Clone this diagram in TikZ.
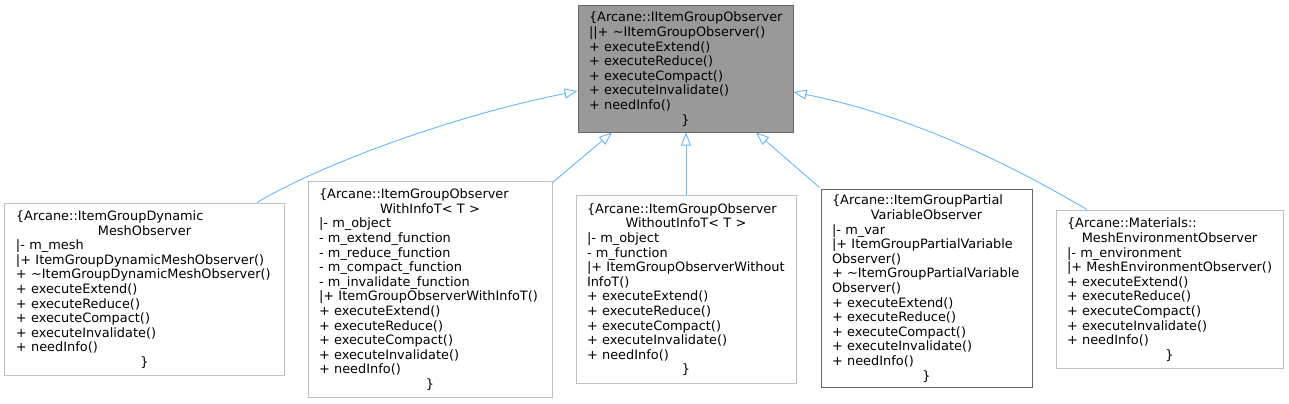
\documentclass[tikz,border=0pt]{standalone}
\usepackage{fontspec}
\setmainfont{DejaVu Sans}
\usetikzlibrary{arrows.meta,calc}
\definecolor{edgeblue}{HTML}{63B8FF}
\definecolor{boxgray}{HTML}{BFBFBF}
\definecolor{bdark}{HTML}{666666}
\definecolor{topfill}{HTML}{999999}
\newcommand\myl[1]{\makebox[\linewidth][l]{#1}}
\newcommand\myc[1]{\makebox[\linewidth][c]{#1}}
\tikzset{
  cls/.style={draw=boxgray, line width=1bp, rectangle, inner xsep=11bp, inner ysep=0pt,
    align=left, anchor=center, font=\fontsize{12.9bp}{14.6bp}\selectfont,
    execute at begin node=\rule{0pt}{12bp}, execute at end node=\rule[-3bp]{0pt}{3bp}},
  clsdoc/.style={cls, draw=bdark},
  clstop/.style={cls, draw=bdark, fill=topfill},
  inh/.style={draw=edgeblue, line width=0.9bp, -{Triangle[open,length=13bp,width=10bp]}}
}
\begin{document}
\begin{tikzpicture}[x=1bp,y=-1bp]
\useasboundingbox (0,0) rectangle (1289,403);

\node[clstop, text width=193bp, minimum height=127bp] (top) at (685.5,68.5) {%
\myl{\{Arcane::IItemGroupObserver}\\
\myl{||+ \textasciitilde IItemGroupObserver()}\\
\myl{+ executeExtend()}\\
\myl{+ executeReduce()}\\
\myl{+ executeCompact()}\\
\myl{+ executeInvalidate()}\\
\myl{+ needInfo()}\\
\myc{\}}};

\node[cls, text width=257bp, minimum height=172bp] (n1) at (144.5,289) {%
\myl{\{Arcane::ItemGroupDynamic}\\
\myc{MeshObserver}\\
\myl{|- m\_mesh}\\
\myl{|+ ItemGroupDynamicMeshObserver()}\\
\myl{+ \textasciitilde ItemGroupDynamicMeshObserver()}\\
\myl{+ executeExtend()}\\
\myl{+ executeReduce()}\\
\myl{+ executeCompact()}\\
\myl{+ executeInvalidate()}\\
\myl{+ needInfo()}\\
\myc{\}}};

\node[cls, text width=222bp, minimum height=216bp] (n2) at (430,289) {%
\myl{\{Arcane::ItemGroupObserver}\\
\myc{WithInfoT< T >}\\
\myl{|- m\_object}\\
\myl{- m\_extend\_function}\\
\myl{- m\_reduce\_function}\\
\myl{- m\_compact\_function}\\
\myl{- m\_invalidate\_function}\\
\myl{|+ ItemGroupObserverWithInfoT()}\\
\myl{+ executeExtend()}\\
\myl{+ executeReduce()}\\
\myl{+ executeCompact()}\\
\myl{+ executeInvalidate()}\\
\myl{+ needInfo()}\\
\myc{\}}};

\node[cls, text width=198bp, minimum height=188bp] (n3) at (686,289) {%
\myl{\{Arcane::ItemGroupObserver}\\
\myc{WithoutInfoT< T >}\\
\myl{|- m\_object}\\
\myl{- m\_function}\\
\myl{|+ ItemGroupObserverWithout}\\
\myl{InfoT()}\\
\myl{+ executeExtend()}\\
\myl{+ executeReduce()}\\
\myl{+ executeCompact()}\\
\myl{+ executeInvalidate()}\\
\myl{+ needInfo()}\\
\myc{\}}};

\node[clsdoc, text width=189bp, minimum height=198bp] (n4) at (926.5,288) {%
\myl{\{Arcane::ItemGroupPartial}\\
\myc{VariableObserver}\\
\myl{|- m\_var}\\
\myl{|+ ItemGroupPartialVariable}\\
\myl{Observer()}\\
\myl{+ \textasciitilde ItemGroupPartialVariable}\\
\myl{Observer()}\\
\myl{+ executeExtend()}\\
\myl{+ executeReduce()}\\
\myl{+ executeCompact()}\\
\myl{+ executeInvalidate()}\\
\myl{+ needInfo()}\\
\myc{\}}};

\node[cls, text width=205bp, minimum height=158bp] (n5) at (1169.5,289) {%
\myl{\{Arcane::Materials::}\\
\myc{MeshEnvironmentObserver}\\
\myl{|- m\_environment}\\
\myl{|+ MeshEnvironmentObserver()}\\
\myl{+ executeExtend()}\\
\myl{+ executeReduce()}\\
\myl{+ executeCompact()}\\
\myl{+ executeInvalidate()}\\
\myl{+ needInfo()}\\
\myc{\}}};

\draw[inh] ($(n1.north)+(112.5,0)$) .. controls +(60,-36) and +(-130,26) .. ($(top.west)+(0,22.5)$);
\draw[inh] ($(n2.north east)+(0,2)$) -- ($(top.south)+(-73.5,0)$);
\draw[inh] (n3.north) -- (n3.north |- top.south);
\draw[inh] ($(n4.north west)+(-1,-1)$) -- ($(top.south)+(70.5,0)$);
\draw[inh] ($(n5.north)+(-82.5,0)$) .. controls +(-60,-35) and +(130,26) .. ($(top.east)+(0,23.5)$);
\end{tikzpicture}
\end{document}
